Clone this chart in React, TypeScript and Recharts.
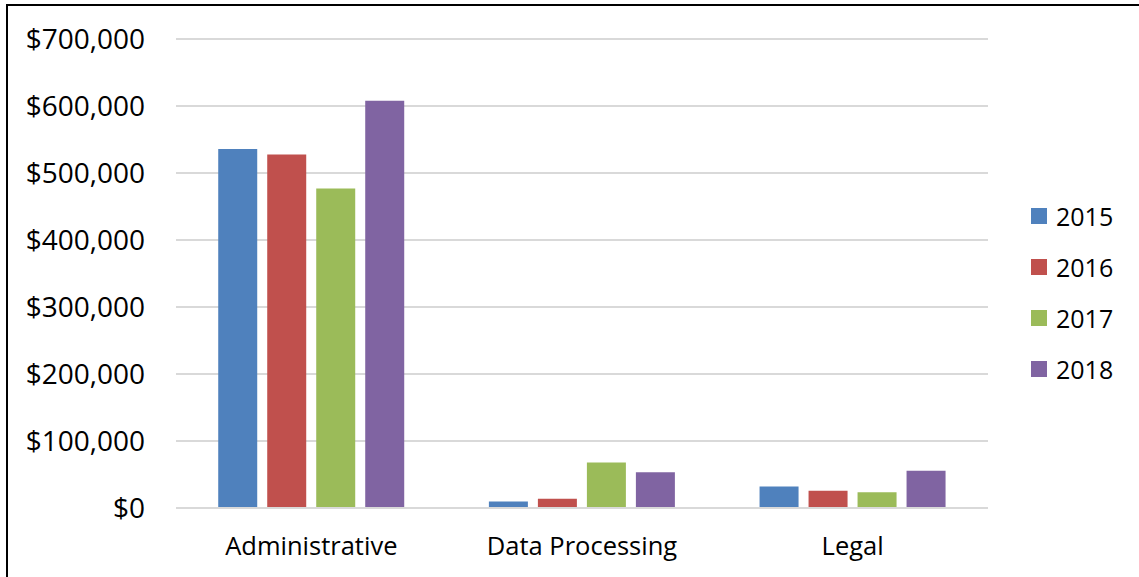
import { BarChart, Bar, XAxis, YAxis, CartesianGrid } from "recharts";

const categories = ["Administrative", "Data Processing", "Legal"];
const years = ["2015", "2016", "2017", "2018"];
const values2015 = [536000, 9700, 32000];
const values2016 = [527600, 13700, 25700];
const values2017 = [477000, 68000, 23600];
const values2018 = [608000, 53500, 55500];
const yTicks = [0, 100000, 200000, 300000, 400000, 500000, 600000, 700000];

const YEAR_COLORS = ["#4f81bd", "#c0504d", "#9bbb59", "#8064a2"];
const FONT = "'Open Sans', 'Liberation Sans', sans-serif";

const data = categories.map((name, i) => ({
  name,
  "2015": values2015[i],
  "2016": values2016[i],
  "2017": values2017[i],
  "2018": values2018[i],
}));

const formatDollar = (v: number) => `$${v.toLocaleString("en-US")}`;

// legend drawn beside the plot so it doesn't shrink the plot area
const SideLegend = () => (
  <div
    style={{
      position: "absolute",
      left: 1031,
      top: 190,
      fontFamily: FONT,
      fontSize: 25,
      color: "#000",
    }}
  >
    {years.map((y, i) => (
      <div key={y} style={{ display: "flex", alignItems: "center", height: 51 }}>
        <span style={{ width: 16, height: 16, background: YEAR_COLORS[i], marginRight: 9 }} />
        <span>{y}</span>
      </div>
    ))}
  </div>
);

export default function App() {
  return (
    <div style={{ position: "relative", width: 1139, height: 577, overflow: "hidden", background: "#fff" }}>
      <style>{"body{margin:0}"}</style>
      <div
        style={{
          position: "absolute",
          left: 6,
          top: 4,
          width: 1200,
          height: 700,
          border: "2px solid #000",
          boxSizing: "border-box",
        }}
      />
      <BarChart
        width={1139}
        height={577}
        data={data}
        margin={{ top: 39, right: 151, left: 0, bottom: 39 }}
        barGap={10}
        barCategoryGap="15.6%"
        style={{ position: "absolute", left: 0, top: 0 }}
      >
        <CartesianGrid vertical={false} stroke="#d9d9d9" strokeWidth={2} />
        <XAxis
          dataKey="name"
          height={30}
          axisLine={{ stroke: "#d9d9d9", strokeWidth: 2 }}
          tickLine={false}
          tickSize={0}
          tickMargin={29}
          tick={{ fill: "#000", fontSize: 25.5, fontFamily: FONT }}
          interval={0}
        />
        <YAxis
          width={176}
          domain={[0, 700000]}
          ticks={yTicks}
          axisLine={false}
          tickLine={false}
          tickSize={0}
          tickMargin={31}
          tickFormatter={formatDollar}
          tick={{ fill: "#000", fontSize: 28, fontFamily: FONT }}
        />
        {years.map((y, i) => (
          <Bar key={y} dataKey={y} fill={YEAR_COLORS[i]} isAnimationActive={false} />
        ))}
      </BarChart>
      <SideLegend />
    </div>
  );
}
